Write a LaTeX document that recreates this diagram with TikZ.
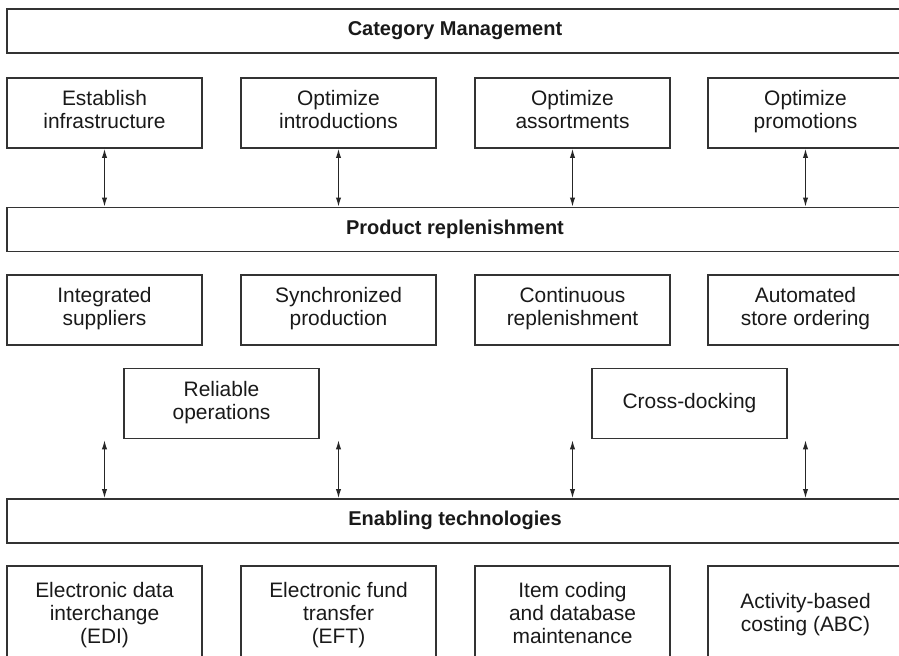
\documentclass[tikz,border=0pt]{standalone}
\usepackage{fontspec}
\setmainfont{Liberation Sans}
\usetikzlibrary{arrows.meta}

\begin{document}
\begin{tikzpicture}
		[x=.75pt,y=-.75pt,>={Latex[length=7pt,width=4pt]},
		 box/.style={draw=black!80,line width=.9pt,text=black!90,align=center,inner sep=0pt,
			minimum width=146.25pt,minimum height=52.5pt,font=\fontsize{15.7}{17.3}\selectfont,
			execute at begin node=\strut,execute at end node=\strut},
		 techbox/.style={box,minimum height=75pt},
		 bar/.style={box,minimum width=672pt,minimum height=33pt,font=\fontsize{15}{17}\selectfont\bfseries},
		 link/.style={<->,draw=black!85,line width=1pt}]
		\clip (0,0) rectangle (899,656);

		\node[bar] (catman) at (455,31) {Category Management};
		\node[box] (infra) at (104.5,113) {Establish\\infrastructure};
		\node[box] (intro) at (338.5,113) {Optimize\\introductions};
		\node[box] (assort) at (572.5,113) {Optimize\\assortments};
		\node[box] (promo) at (805.5,113) {Optimize\\promotions};

		\node[bar] (replen) at (455,229.5) {Product replenishment};
		\node[box] (suppl) at (104.5,310) {Integrated\\suppliers};
		\node[box] (sync) at (338.5,310) {Synchronized\\production};
		\node[box] (contin) at (572.5,310) {Continuous\\replenishment};
		\node[box] (order) at (805.5,310) {Automated\\store ordering};
		\node[box] (reliab) at (221.5,403.5) {Reliable\\operations};
		\node[box] (xdock) at (689.5,403.5) {Cross-docking};

		\node[bar] (enabl) at (455,521) {Enabling technologies};
		\node[techbox] (edi) at (104.5,616) {Electronic data\\interchange\\(EDI)};
		\node[techbox] (eft) at (338.5,616) {Electronic fund\\transfer\\(EFT)};
		\node[techbox] (coding) at (572.5,616) {Item coding\\and database\\maintenance};
		\node[techbox] (abc) at (805.5,616) {Activity-based\\costing (ABC)};

		\coordinate (u1) at (104.5,440);
		\coordinate (u2) at (338.5,440);
		\coordinate (u3) at (572.5,440);
		\coordinate (u4) at (805.5,440);

		\draw[link] (infra) -- (infra |- replen.north);
		\draw[link] (intro) -- (intro |- replen.north);
		\draw[link] (assort) -- (assort |- replen.north);
		\draw[link] (promo) -- (promo |- replen.north);

		\draw[link] (u1) -- (u1 |- enabl.north);
		\draw[link] (u2) -- (u2 |- enabl.north);
		\draw[link] (u3) -- (u3 |- enabl.north);
		\draw[link] (u4) -- (u4 |- enabl.north);

	\end{tikzpicture}
\end{document}
